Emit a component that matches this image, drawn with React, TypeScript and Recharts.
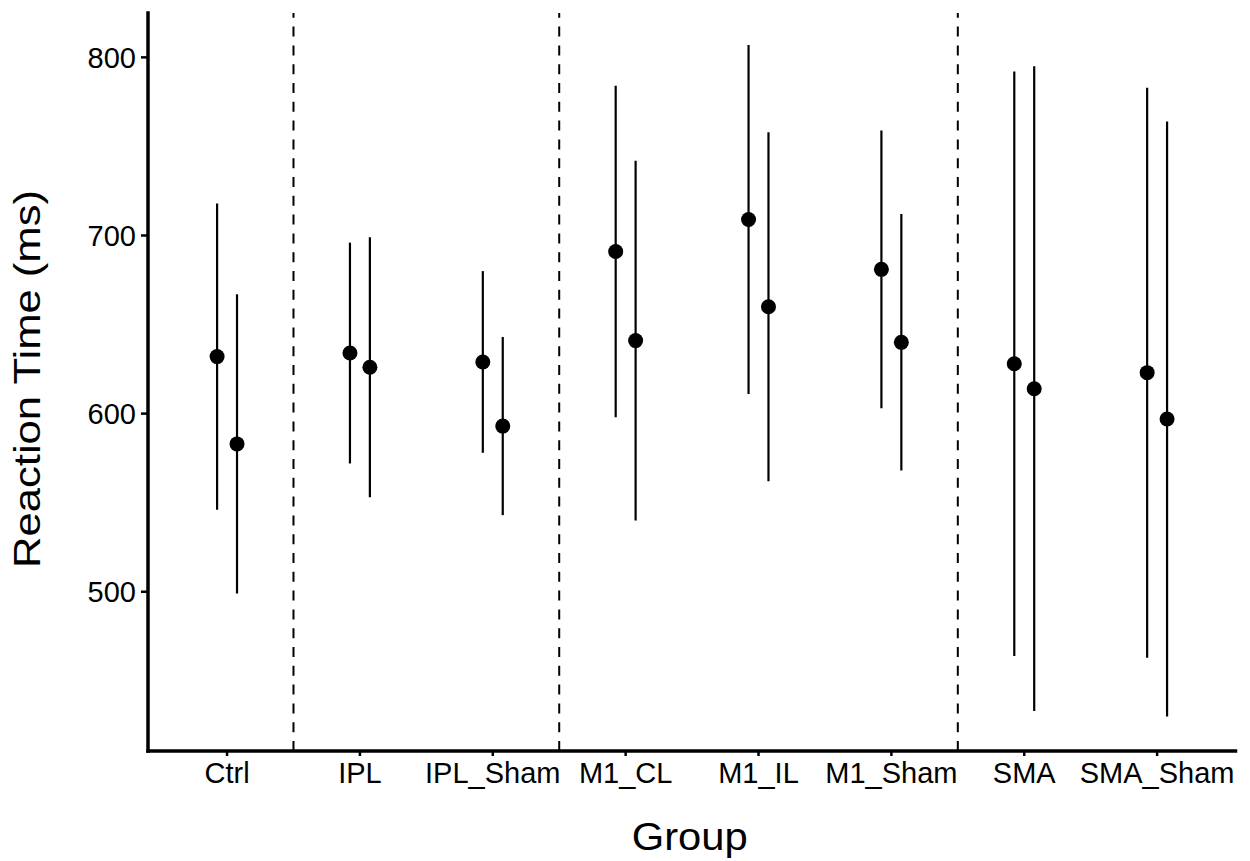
import { ComposedChart, ErrorBar, ReferenceLine, Scatter, XAxis, YAxis } from 'recharts';

const FONT = '"Liberation Sans", Arial, Helvetica, sans-serif';

const GROUPS = ['Ctrl', 'IPL', 'IPL_Sham', 'M1_CL', 'M1_IL', 'M1_Sham', 'SMA', 'SMA_Sham'];

// left point in each group
const FIRST_MEAN = [632, 634, 629, 691, 709, 681, 628, 623];
const FIRST_LOW = [546, 572, 578, 598, 611, 603, 464, 463];
const FIRST_HIGH = [718, 696, 680, 784, 807, 759, 792, 783];

// right point in each group
const SECOND_MEAN = [583, 626, 593, 641, 660, 640, 614, 597];
const SECOND_LOW = [499, 553, 543, 540, 562, 568, 433, 430];
const SECOND_HIGH = [667, 699, 643, 742, 758, 712, 795, 764];

const Y_TICKS = [500, 600, 700, 800];

// dashed separators sit between these neighbouring groups
const DIVIDERS = [1.5, 3.5, 6.5];

const DODGE = 0.075;

const buildRows = (mean: number[], low: number[], high: number[], shift: number) =>
  GROUPS.map((g, i) => ({
    group: g,
    x: i + 1 + shift,
    y: mean[i],
    ci: [mean[i] - low[i], high[i] - mean[i]],
  }));

const firstRows = buildRows(FIRST_MEAN, FIRST_LOW, FIRST_HIGH, -DODGE);
const secondRows = buildRows(SECOND_MEAN, SECOND_LOW, SECOND_HIGH, DODGE);

const Dot = (props: any) => <circle cx={props.cx} cy={props.cy} r={7.5} fill="#000" />;

const tickStyle = { fontSize: 29, fill: '#000', fontFamily: FONT };

const YTitle = ({ viewBox }: any) => {
  const cx = 40;
  const cy = viewBox.y + viewBox.height / 2 - 3;
  return (
    <text
      x={cx}
      y={cy}
      transform={`rotate(-90 ${cx} ${cy})`}
      textAnchor="middle"
      fontSize={37}
      fontFamily={FONT}
      fill="#000"
      textLength={378}
      lengthAdjust="spacingAndGlyphs"
    >
      Reaction Time (ms)
    </text>
  );
};

const XTitle = ({ viewBox }: any) => {
  const cx = viewBox.x + viewBox.width / 2 - 2;
  return (
    <text
      x={cx}
      y={850}
      textAnchor="middle"
      fontSize={39}
      fontFamily={FONT}
      fill="#000"
      textLength={116}
      lengthAdjust="spacingAndGlyphs"
    >
      Group
    </text>
  );
};

export default function App() {
  return (
    <div style={{ position: 'absolute', left: 0, top: 0, width: 1250, height: 861, background: '#fff' }}>
      <ComposedChart width={1250} height={861} margin={{ top: 13, right: 14.5, bottom: 0, left: 0 }}>
        <XAxis
          type="number"
          dataKey="x"
          domain={[0.405, 8.59]}
          allowDataOverflow
          ticks={GROUPS.map((_, i) => i + 1)}
          tickFormatter={(v: number) => GROUPS[Math.round(v) - 1] ?? ''}
          interval={0}
          height={110}
          tick={tickStyle}
          tickSize={5}
          tickMargin={6}
          axisLine={{ stroke: '#000', strokeWidth: 3.5, strokeLinecap: 'square' }}
          tickLine={{ stroke: '#000', strokeWidth: 2.5 }}
          label={<XTitle />}
        />
        <YAxis
          type="number"
          dataKey="y"
          domain={[410.6, 824.9]}
          allowDataOverflow
          ticks={Y_TICKS}
          width={148}
          tick={tickStyle}
          tickSize={7}
          tickMargin={5}
          axisLine={{ stroke: '#000', strokeWidth: 3.5, strokeLinecap: 'square' }}
          tickLine={{ stroke: '#000', strokeWidth: 2.5 }}
          label={<YTitle />}
        />
        {DIVIDERS.map((d) => (
          <ReferenceLine key={d} x={d} stroke="#000" strokeWidth={2} strokeDasharray="10 8.8" />
        ))}
        <Scatter data={firstRows} dataKey="y" shape={Dot} isAnimationActive={false}>
          <ErrorBar dataKey="ci" direction="y" width={0} stroke="#000" strokeWidth={2.2} />
        </Scatter>
        <Scatter data={secondRows} dataKey="y" shape={Dot} isAnimationActive={false}>
          <ErrorBar dataKey="ci" direction="y" width={0} stroke="#000" strokeWidth={2.2} />
        </Scatter>
      </ComposedChart>
    </div>
  );
}
